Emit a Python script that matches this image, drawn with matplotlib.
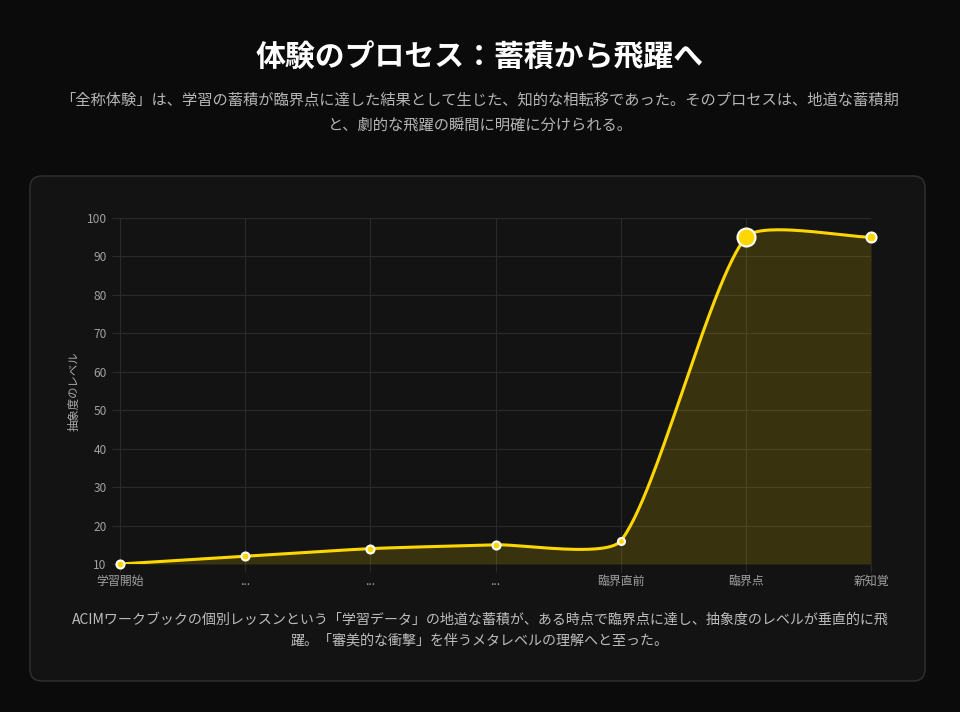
import numpy as np
import matplotlib
matplotlib.use('Agg')
import matplotlib.pyplot as plt
from matplotlib.patches import FancyBboxPatch

plt.rcParams['font.family'] = ['Noto Sans CJK JP', 'DejaVu Sans']

# data
stages = ['学習開始', '...', '...', '...', '臨界直前', '臨界点', '新知覚']
levels = [10, 12, 14, 15, 16, 95, 95]
point_radius = [4, 4, 4, 4, 3.5, 9, 5]

title = '体験のプロセス：蓄積から飛躍へ'
subtitle = ['「全称体験」は、学習の蓄積が臨界点に達した結果として生じた、知的な相転移であった。そのプロセスは、地道な蓄積期',
            'と、劇的な飛躍の瞬間に明確に分けられる。']
caption = ['ACIMワークブックの個別レッスンという「学習データ」の地道な蓄積が、ある時点で臨界点に達し、抽象度のレベルが垂直的に飛',
           '躍。「審美的な衝撃」を伴うメタレベルの理解へと至った。']
ylabel = '抽象度のレベル'

W, H = 960, 712
fig = plt.figure(figsize=(W / 100, H / 100), dpi=100)
fig.patch.set_facecolor('#0b0b0b')

def fx(px):
    return px / W

def fy(py):
    return 1 - py / H

# card behind the chart
card = FancyBboxPatch((0.30, 0.31), 8.95, 5.05,
                      boxstyle='round,pad=0,rounding_size=0.12',
                      transform=fig.dpi_scale_trans,
                      facecolor='#131313', edgecolor='#2c2c2c', linewidth=1.2,
                      zorder=-5)
fig.patches.append(card)

fig.text(0.5, fy(58), title, ha='center', va='center', color='white',
         fontsize=21.5, fontweight='bold')
fig.text(0.5, fy(100), subtitle[0], ha='center', va='center', color='#b5b5b5', fontsize=11)
fig.text(0.5, fy(125), subtitle[1], ha='center', va='center', color='#b5b5b5', fontsize=11)
fig.text(0.5, fy(620), caption[0], ha='center', va='center', color='#bdbdbd', fontsize=10.1)
fig.text(0.5, fy(640), caption[1], ha='center', va='center', color='#bdbdbd', fontsize=10.1)

ax = fig.add_axes([fx(120), fy(564), fx(871) - fx(120), fy(218) - fy(564)])
ax.patch.set_alpha(0)
x = np.arange(len(levels))
ax.set_xlim(0, len(levels) - 1)
ax.set_ylim(10, 100)

# smooth bezier through the points (control points in pixel space, capped to plot area)
pts = ax.transData.transform(np.column_stack([x, levels]))
t = 0.2
n = len(pts)
cp_prev = pts.copy()
cp_next = pts.copy()
for i in range(n):
    prev = pts[i - 1] if i > 0 else pts[i]
    nxt = pts[i + 1] if i < n - 1 else pts[i]
    d01 = np.hypot(*(pts[i] - prev))
    d12 = np.hypot(*(nxt - pts[i]))
    tot = d01 + d12
    s01 = d01 / tot if tot else 0
    s12 = d12 / tot if tot else 0
    cp_prev[i] = pts[i] - t * s01 * (nxt - prev)
    cp_next[i] = pts[i] + t * s12 * (nxt - prev)

bb = ax.get_window_extent()
for cp in (cp_prev, cp_next):
    cp[:, 0] = np.clip(cp[:, 0], bb.x0, bb.x1)
    cp[:, 1] = np.clip(cp[:, 1], bb.y0, bb.y1)

curve = []
u = np.linspace(0, 1, 60)[:, None]
for i in range(n - 1):
    p0, p1, p2, p3 = pts[i], cp_next[i], cp_prev[i + 1], pts[i + 1]
    seg = (1 - u) ** 3 * p0 + 3 * (1 - u) ** 2 * u * p1 + 3 * (1 - u) * u ** 2 * p2 + u ** 3 * p3
    curve.append(seg)
curve = ax.transData.inverted().transform(np.vstack(curve))

ax.fill_between(curve[:, 0], curve[:, 1], 10, color='#FFD700', alpha=0.16, linewidth=0)
ax.plot(curve[:, 0], curve[:, 1], color='#FFD700', linewidth=2.2, solid_capstyle='round')
for xi, yi, r in zip(x, levels, point_radius):
    ax.plot(xi, yi, 'o', markersize=2 * r * 0.72, markerfacecolor='#FFD700',
            markeredgecolor='white', markeredgewidth=1.5, clip_on=False, zorder=5)

ax.set_xticks(x)
ax.set_xticklabels(stages)
ax.set_yticks(np.arange(10, 101, 10))
ax.grid(True, color='#2a2a2a', linewidth=0.8)
ax.set_axisbelow(True)
for s in ax.spines.values():
    s.set_visible(False)
ax.tick_params(colors='#2a2a2a', length=6, width=0.8, labelcolor='#a0a0a0', labelsize=8.6)
ax.tick_params(axis='x', pad=2)
ax.set_ylabel(ylabel, color='#aaaaaa', fontsize=8.2, labelpad=5)

fig.savefig('out.png', dpi=100, facecolor=fig.get_facecolor())
